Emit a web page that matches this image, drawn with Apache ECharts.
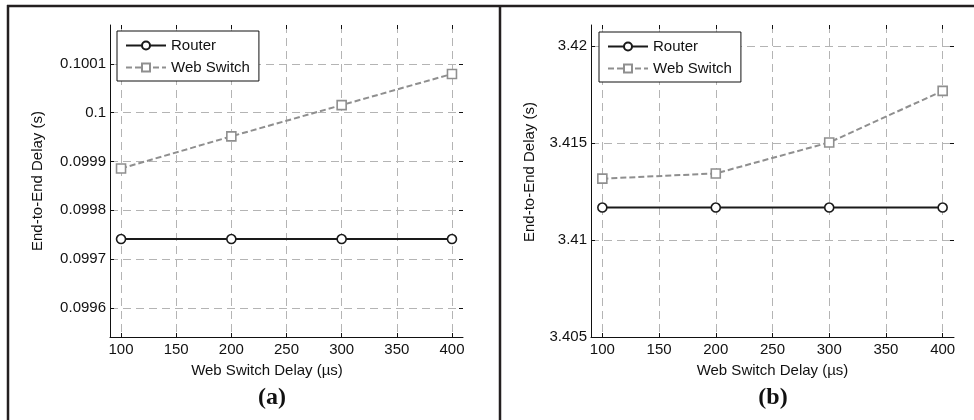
<!DOCTYPE html>
<html>
<head>
<meta charset="utf-8">
<script src="https://cdn.jsdelivr.net/npm/echarts@6/dist/echarts.min.js"></script>
<style>
html,body{margin:0;padding:0;background:#fff;}
#chart{width:974px;height:420px;}
</style>
</head>
<body>
<div id="chart"></div>
<script>
// ---- data ----
var xValues = [100, 200, 300, 400];
var routerA = [0.099741, 0.099741, 0.099741, 0.099741];
var switchA = [0.0998857, 0.0999516, 0.1000157, 0.1000796];
var routerB = [3.41168, 3.41168, 3.41168, 3.41168];
var switchB = [3.41317, 3.41344, 3.41504, 3.41770];
var xTicks = [100, 150, 200, 250, 300, 350, 400];
var yTicksA = [0.0996, 0.0997, 0.0998, 0.0999, 0.1, 0.1001];
var yTicksB = [3.405, 3.41, 3.415, 3.42];
var seriesNames = ['Router', 'Web Switch'];
var xTitle = 'Web Switch Delay (\u00b5s)';
var yTitle = 'End-to-End Delay (s)';
var panelLabels = ['(a)', '(b)'];

function pairs(xs, ys) { return xs.map(function (x, i) { return [x, ys[i]]; }); }

var FONT = '"Liberation Sans", Arial, Helvetica, sans-serif';
var gridLine = { show: true, lineStyle: { color: '#b4b4b4', width: 1, type: [8, 5] } };

function xAxisMain(gi, namePad) {
  return {
    type: 'value', gridIndex: gi, position: 'bottom', min: 90, max: 410,
    name: xTitle, nameLocation: 'middle', nameGap: 26,
    nameTextStyle: { fontFamily: FONT, fontSize: 15, color: '#111', padding: namePad },
    axisLine: { show: true, onZero: false, lineStyle: { color: '#111', width: 1 } },
    axisTick: { show: true, inside: true, length: 4, customValues: xTicks, lineStyle: { color: '#111' } },
    axisLabel: { show: true, margin: 5, customValues: xTicks, fontFamily: FONT, fontSize: 15, color: '#111' },
    splitLine: gridLine
  };
}
function xAxisTop(gi) {
  return {
    type: 'value', gridIndex: gi, position: 'top', min: 90, max: 410,
    axisLine: { show: false },
    axisTick: { show: true, inside: true, length: 4, customValues: xTicks, lineStyle: { color: '#111' } },
    axisLabel: { show: false, customValues: xTicks },
    splitLine: { show: false }
  };
}
function yAxisMain(gi, min, max, ticks, digits, gap, namePad) {
  return {
    type: 'value', gridIndex: gi, position: 'left', min: min, max: max,
    name: yTitle, nameLocation: 'middle', nameGap: gap, nameRotate: 90,
    nameTextStyle: { fontFamily: FONT, fontSize: 15, color: '#111', padding: namePad },
    axisLine: { show: true, onZero: false, lineStyle: { color: '#111', width: 1 } },
    axisTick: { show: true, inside: true, length: 4, customValues: ticks, lineStyle: { color: '#111' } },
    axisLabel: {
      show: true, margin: 4, customValues: ticks, fontFamily: FONT, fontSize: 15, color: '#111',
      formatter: function (v) { return String(parseFloat(Number(v).toFixed(digits))); }
    },
    splitLine: gridLine
  };
}
function yAxisRight(gi, min, max, ticks) {
  return {
    type: 'value', gridIndex: gi, position: 'right', min: min, max: max,
    axisLine: { show: false },
    axisTick: { show: true, inside: true, length: 4, customValues: ticks, lineStyle: { color: '#111' } },
    axisLabel: { show: false, customValues: ticks },
    splitLine: { show: false }
  };
}
function routerSeries(xi, yi, ys) {
  return {
    type: 'line', name: seriesNames[0], xAxisIndex: xi, yAxisIndex: yi,
    data: pairs(xValues, ys), symbol: 'circle', symbolSize: 9,
    itemStyle: { color: '#fff', borderColor: '#1a1a1a', borderWidth: 1.6 },
    lineStyle: { color: '#1a1a1a', width: 2 },
    color: '#1a1a1a', animation: false, z: 3
  };
}
function switchSeries(xi, yi, ys) {
  return {
    type: 'line', name: seriesNames[1], xAxisIndex: xi, yAxisIndex: yi,
    data: pairs(xValues, ys), symbol: 'rect', symbolSize: 9,
    itemStyle: { color: '#fff', borderColor: '#8f8f8f', borderWidth: 1.6 },
    lineStyle: { color: '#8f8f8f', width: 2, type: [6, 3] },
    color: '#8f8f8f', animation: false, z: 2
  };
}
function legend(left, top) {
  return {
    data: seriesNames, orient: 'vertical', left: left, top: top,
    backgroundColor: '#fff', borderColor: '#111', borderWidth: 1, borderRadius: 0,
    padding: [7, 9, 6, 8], itemWidth: 40, itemHeight: 10, itemGap: 7,
    textStyle: { fontFamily: FONT, fontSize: 15, color: '#111', lineHeight: 14 },
    selectedMode: false
  };
}

var chart = echarts.init(document.getElementById('chart'), null, { renderer: 'canvas' });
chart.setOption({
  backgroundColor: '#fff',
  animation: false,
  grid: [
    { left: 110, top: 25, width: 353, height: 312, containLabel: false },
    { left: 591, top: 25, width: 363, height: 312, containLabel: false }
  ],
  xAxis: [xAxisMain(0, [0, 39, 0, 0]), xAxisTop(0), xAxisMain(1, [0, 0, 0, 0]), xAxisTop(1)],
  yAxis: [
    yAxisMain(0, 0.09954, 0.10018, yTicksA, 4, 65, [0, 0, 0, 0]),
    yAxisRight(0, 0.09954, 0.10018, yTicksA),
    yAxisMain(1, 3.405, 3.4211, yTicksB, 3, 54, [0, 0, 0, 18]),
    yAxisRight(1, 3.405, 3.4211, yTicksB)
  ],
  legend: [legend(117, 31), legend(599, 32)],
  series: [
    routerSeries(0, 0, routerA), switchSeries(0, 0, switchA),
    routerSeries(2, 2, routerB), switchSeries(2, 2, switchB)
  ],
  graphic: [
    { type: 'line', shape: { x1: 7, y1: 6, x2: 974, y2: 6 }, style: { stroke: '#231f20', lineWidth: 2.5 }, silent: true },
    { type: 'line', shape: { x1: 8, y1: 5, x2: 8, y2: 420 }, style: { stroke: '#231f20', lineWidth: 2.5 }, silent: true },
    { type: 'line', shape: { x1: 500, y1: 5, x2: 500, y2: 420 }, style: { stroke: '#231f20', lineWidth: 2.5 }, silent: true },
    { type: 'text', x: 272, y: 398, style: { text: panelLabels[0], font: 'bold 24px "Liberation Serif", "Times New Roman", serif', fill: '#111', textAlign: 'center', textVerticalAlign: 'middle' } },
    { type: 'text', x: 773, y: 398, style: { text: panelLabels[1], font: 'bold 24px "Liberation Serif", "Times New Roman", serif', fill: '#111', textAlign: 'center', textVerticalAlign: 'middle' } }
  ]
});
</script>
</body>
</html>
